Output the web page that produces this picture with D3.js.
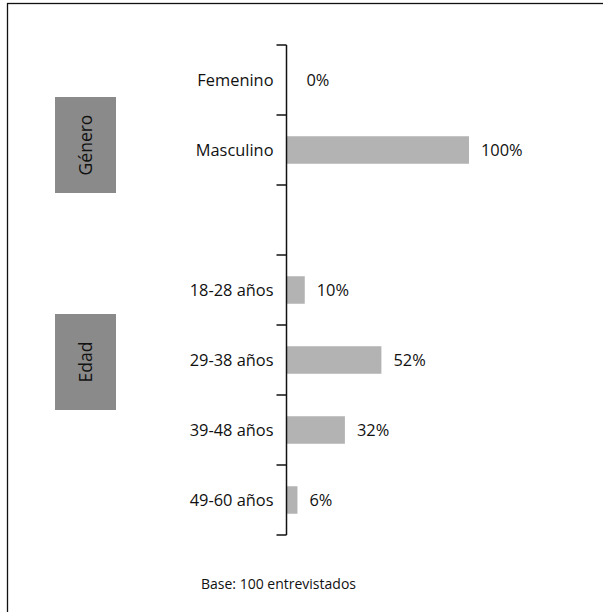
<!DOCTYPE html>
<html>
<head>
<meta charset="utf-8">
<script src="https://cdn.jsdelivr.net/npm/d3@7"></script>
<style>
  html, body { margin: 0; padding: 0; background: #fff; }
  svg { display: block; }
  text { font-family: "Open Sans", sans-serif; fill: #111; }
</style>
</head>
<body>
<svg id="chart" width="603" height="612"></svg>
<script>
// Profile of respondents: gender and age breakdown (percent)
const categories = ["Femenino", "Masculino", "", "18-28 años", "29-38 años", "39-48 años", "49-60 años"];
const values     = [0, 100, null, 10, 52, 32, 6];
const groupNames = ["Género", "Edad"];
const groupAnchors = ["Masculino", "29-38 años"];
const footnote = "Base: 100 entrevistados";

const svg = d3.select("#chart");

// frame
svg.append("rect")
  .attr("x", 7.5).attr("y", 3.5)
  .attr("width", 620).attr("height", 640)
  .attr("fill", "none").attr("stroke", "#111").attr("stroke-width", 1.3);

const axisX = 286.5;
const plotTop = 45, plotBottom = 535;

// one band per category, bars sit in the middle of each band
const y = d3.scaleBand()
  .domain(d3.range(categories.length))
  .range([plotTop, plotBottom])
  .paddingInner(0).paddingOuter(0);

const x = d3.scaleLinear().domain([0, 100]).range([axisX, 469]);

const tickYs = d3.range(categories.length + 1).map(i => plotTop + i * y.step());
const center = i => y(i) + y.bandwidth() / 2;
const barH = 27.5;

const g = svg.append("g");
const data = categories.map((c, i) => ({ c, v: values[i], i }));

// bars
g.selectAll("rect.bar")
  .data(data.filter(d => d.v !== null && d.v > 0))
  .join("rect")
  .attr("class", "bar")
  .attr("x", axisX)
  .attr("y", d => center(d.i) - barH / 2)
  .attr("width", d => x(d.v) - axisX)
  .attr("height", barH)
  .attr("fill", "#b3b3b3");

// axis line with ticks to the left
g.append("line")
  .attr("x1", axisX).attr("x2", axisX)
  .attr("y1", tickYs[0]).attr("y2", tickYs[tickYs.length - 1])
  .attr("stroke", "#111").attr("stroke-width", 1.5);
g.selectAll("line.tick")
  .data(tickYs)
  .join("line")
  .attr("class", "tick")
  .attr("x1", axisX - 10).attr("x2", axisX)
  .attr("y1", d => d).attr("y2", d => d)
  .attr("stroke", "#111").attr("stroke-width", 1.5);

// category labels
g.selectAll("text.cat")
  .data(data.filter(d => d.c))
  .join("text")
  .attr("class", "cat")
  .attr("x", axisX - 13)
  .attr("y", d => center(d.i))
  .attr("dy", "0.35em")
  .attr("text-anchor", "end")
  .attr("font-size", 16.4)
  .text(d => d.c);

// value labels
g.selectAll("text.val")
  .data(data.filter(d => d.v !== null))
  .join("text")
  .attr("class", "val")
  .attr("x", d => x(d.v) + (d.v === 0 ? 20 : 12))
  .attr("y", d => center(d.i))
  .attr("dy", "0.35em")
  .attr("font-size", 16.4)
  .text(d => d.v + "%");

// group boxes with rotated titles
const boxW = 61, boxH = 96;
const boxOffsets = [-5, 2];
groupNames.forEach((name, k) => {
  const cy = center(categories.indexOf(groupAnchors[k])) + boxOffsets[k];
  svg.append("rect")
    .attr("x", 55).attr("y", cy - boxH / 2)
    .attr("width", boxW).attr("height", boxH)
    .attr("fill", "#8a8a8a");
  svg.append("text")
    .attr("transform", `translate(${55 + boxW / 2},${cy}) rotate(-90)`)
    .attr("text-anchor", "middle")
    .attr("dy", "0.35em")
    .attr("font-size", 17.5)
    .text(name);
});

// footnote
svg.append("text")
  .attr("x", 201)
  .attr("y", 589)
  .attr("font-size", 14)
  .text(footnote);
</script>
</body>
</html>
